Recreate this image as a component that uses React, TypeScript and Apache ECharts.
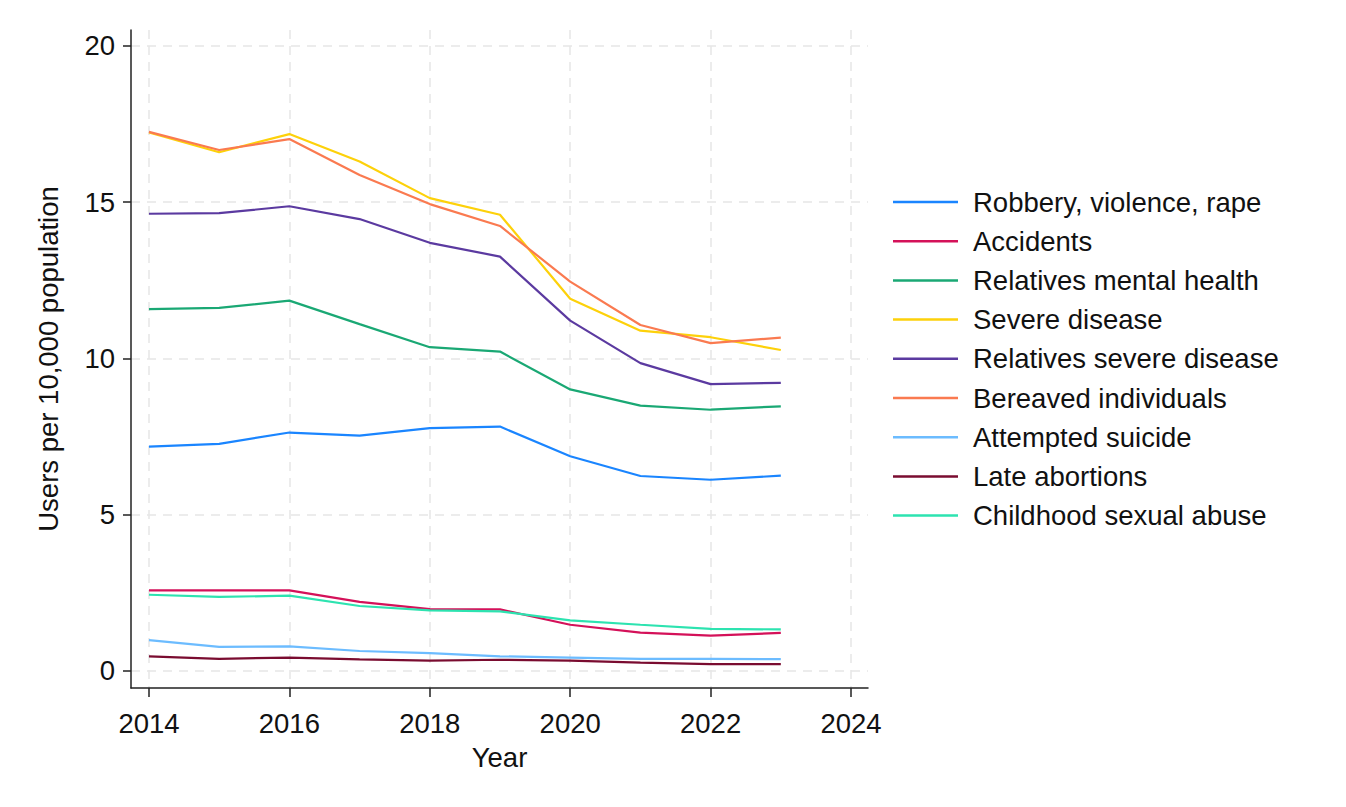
import React, { useEffect, useRef } from "react";
import * as echarts from "echarts";

const years = [2014, 2015, 2016, 2017, 2018, 2019, 2020, 2021, 2022, 2023];
const xTicks = [2014, 2016, 2018, 2020, 2022, 2024];
const yTicks = [0, 5, 10, 15, 20];

const seriesNames = [
  "Robbery, violence, rape",
  "Accidents",
  "Relatives mental health",
  "Severe disease",
  "Relatives severe disease",
  "Bereaved individuals",
  "Attempted suicide",
  "Late abortions",
  "Childhood sexual abuse",
];

const robbery = [7.18, 7.27, 7.63, 7.53, 7.77, 7.82, 6.87, 6.24, 6.12, 6.25];
const accidents = [2.58, 2.58, 2.58, 2.21, 1.98, 1.97, 1.48, 1.23, 1.13, 1.22];
const relativesMental = [11.58, 11.62, 11.85, 11.1, 10.36, 10.22, 9.01, 8.49, 8.36, 8.47];
const severeDisease = [17.23, 16.6, 17.18, 16.3, 15.13, 14.6, 11.91, 10.89, 10.68, 10.27];
const relativesSevere = [14.63, 14.65, 14.87, 14.46, 13.7, 13.26, 11.21, 9.85, 9.18, 9.22];
const bereaved = [17.25, 16.67, 17.02, 15.87, 14.94, 14.24, 12.46, 11.07, 10.49, 10.67];
const attemptedSuicide = [0.99, 0.77, 0.79, 0.64, 0.57, 0.47, 0.43, 0.39, 0.39, 0.38];
const lateAbortions = [0.47, 0.39, 0.43, 0.37, 0.33, 0.36, 0.33, 0.27, 0.22, 0.22];
const childhoodAbuse = [2.44, 2.37, 2.41, 2.08, 1.94, 1.91, 1.62, 1.48, 1.35, 1.33];

const seriesValues = [
  robbery,
  accidents,
  relativesMental,
  severeDisease,
  relativesSevere,
  bereaved,
  attemptedSuicide,
  lateAbortions,
  childhoodAbuse,
];

const colors = [
  "#1a85ff",
  "#d41159",
  "#1aa874",
  "#fdd10a",
  "#5b3aa0",
  "#fa7a50",
  "#6cbcff",
  "#7a0c30",
  "#2de3b0",
];

const FONT = "'Liberation Sans', Arial, Helvetica, sans-serif";
const FS = 27.5;

export default function App() {
  const ref = useRef<HTMLDivElement>(null);

  useEffect(() => {
    if (!ref.current) return;
    const chart = echarts.init(ref.current, null, { renderer: "svg" });
    const option = {
      animation: false,
      backgroundColor: "#ffffff",
      color: colors,
      textStyle: { fontFamily: FONT, color: "#000" },
      grid: { left: 131, right: 478, top: 30, bottom: 119, containLabel: false },
      legend: {
        orient: "vertical",
        left: 893,
        top: 187,
        padding: 0,
        icon: "rect",
        itemWidth: 65,
        itemHeight: 2.5,
        itemGap: 9.2,
        data: seriesNames,
        textStyle: {
          fontFamily: FONT,
          fontSize: FS,
          color: "#111",
          lineHeight: 30,
          padding: [0, 0, 0, 10],
        },
      },
      xAxis: {
        type: "value",
        min: 2013.744,
        max: 2024.242,
        name: "Year",
        nameLocation: "middle",
        nameGap: 55,
        nameTextStyle: { fontFamily: FONT, fontSize: FS, color: "#111" },
        axisLine: { show: true, onZero: false, lineStyle: { color: "#222", width: 1.5 } },
        axisTick: {
          show: true,
          length: 9,
          customValues: xTicks,
          lineStyle: { color: "#222", width: 1.5 },
        },
        axisLabel: {
          customValues: xTicks,
          fontFamily: FONT,
          fontSize: FS,
          color: "#111",
          margin: 21,
          formatter: (v: number) => String(Math.round(v)),
        },
        splitLine: {
          show: true,
          lineStyle: { color: "#e6e6e6", type: [9, 7], width: 1.5 },
        },
      },
      yAxis: {
        type: "value",
        min: -0.544,
        max: 20.51,
        name: "Users per 10,000 population",
        nameLocation: "middle",
        nameGap: 69,
        nameTextStyle: { fontFamily: FONT, fontSize: FS, color: "#111" },
        axisLine: { show: true, onZero: false, lineStyle: { color: "#222", width: 1.5 } },
        axisTick: {
          show: true,
          length: 8,
          customValues: yTicks,
          lineStyle: { color: "#222", width: 1.5 },
        },
        axisLabel: {
          customValues: yTicks,
          fontFamily: FONT,
          fontSize: FS,
          color: "#111",
          margin: 16,
          formatter: (v: number) => String(Math.round(v)),
        },
        splitLine: {
          show: true,
          lineStyle: { color: "#e6e6e6", type: [9, 7], width: 1.5 },
        },
      },
      series: seriesNames.map((name, i) => ({
        name,
        type: "line",
        symbol: "none",
        data: years.map((y, j) => [y, seriesValues[i][j]]),
        lineStyle: { width: 2.2, color: colors[i] },
        itemStyle: { color: colors[i] },
      })),
    };
    chart.setOption(option as any);
    return () => chart.dispose();
  }, []);

  return (
    <div
      ref={ref}
      style={{ position: "absolute", left: 0, top: 0, width: 1346, height: 807, background: "#fff" }}
    />
  );
}
